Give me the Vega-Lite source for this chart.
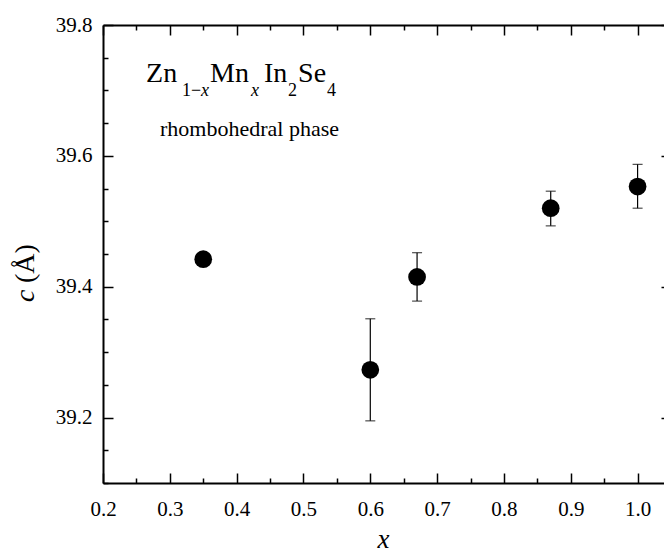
{
  "$schema": "https://vega.github.io/schema/vega-lite/v6.json",
  "width": 568,
  "height": 458,
  "autosize": {"type": "none"},
  "padding": {"left": 103, "top": 25, "right": 0, "bottom": 74},
  "background": "white",
  "config": {
    "font": "Liberation Serif, Times New Roman, serif",
    "view": {"stroke": null},
    "axis": {"labelFont": "Liberation Serif, Times New Roman, serif", "titleFont": "Liberation Serif, Times New Roman, serif"},
    "text": {"font": "Liberation Serif"}
  },
  "datasets": {
    "points": [
      {"x": 0.35, "c": 39.442, "lo": null, "hi": null},
      {"x": 0.6, "c": 39.273, "lo": 39.195, "hi": 39.351},
      {"x": 0.67, "c": 39.415, "lo": 39.378, "hi": 39.452},
      {"x": 0.87, "c": 39.52, "lo": 39.493, "hi": 39.546},
      {"x": 1.0, "c": 39.553, "lo": 39.52, "hi": 39.587}
    ],
    "main": [
      {"t": "Zn", "tx": 0.2644, "ty": 39.7125},
      {"t": "Mn", "tx": 0.3602, "ty": 39.7125},
      {"t": "In", "tx": 0.441, "ty": 39.7125},
      {"t": "Se", "tx": 0.4919, "ty": 39.7125}
    ],
    "sub": [
      {"t": "1−", "tx": 0.3183, "ty": 39.6911},
      {"t": "2", "tx": 0.4769, "ty": 39.6911},
      {"t": "4", "tx": 0.5353, "ty": 39.6911}
    ],
    "subital": [
      {"t": "x", "tx": 0.3467, "ty": 39.6911},
      {"t": "x", "tx": 0.4216, "ty": 39.6911}
    ],
    "note": [
      {"t": "rhombohedral phase", "tx": 0.2853, "ty": 39.630}
    ],
    "ytitleital": [
      {"t": "c", "tx": 0.0963, "ty": 39.3766}
    ],
    "ytitle": [
      {"t": "(Å)", "tx": 0.0963, "ty": 39.4057}
    ],
    "xtitle": [
      {"t": "x", "tx": 0.6199, "ty": 39.0}
    ]
  },
  "resolve": {"axis": {"x": "independent", "y": "independent"}},
  "layer": [
    {
      "data": {"name": "points"},
      "transform": [{"filter": "isValid(datum.lo)"}],
      "mark": {"type": "rule", "color": "black", "strokeWidth": 1.2},
      "encoding": {
        "x": {"field": "x", "type": "quantitative", "scale": {"domain": [0.2, 1.05], "nice": false, "zero": false}, "axis": null},
        "y": {"field": "lo", "type": "quantitative", "scale": {"domain": [39.1, 39.8], "nice": false, "zero": false}, "axis": null},
        "y2": {"field": "hi"}
      }
    },
    {
      "data": {"name": "points"},
      "transform": [{"filter": "isValid(datum.lo)"}],
      "mark": {"type": "tick", "orient": "horizontal", "color": "black", "size": 10, "thickness": 1.2},
      "encoding": {
        "x": {"field": "x", "type": "quantitative", "scale": {"domain": [0.2, 1.05], "nice": false, "zero": false}, "axis": null},
        "y": {"field": "lo", "type": "quantitative", "scale": {"domain": [39.1, 39.8], "nice": false, "zero": false}, "axis": null}
      }
    },
    {
      "data": {"name": "points"},
      "transform": [{"filter": "isValid(datum.hi)"}],
      "mark": {"type": "tick", "orient": "horizontal", "color": "black", "size": 10, "thickness": 1.2},
      "encoding": {
        "x": {"field": "x", "type": "quantitative", "scale": {"domain": [0.2, 1.05], "nice": false, "zero": false}, "axis": null},
        "y": {"field": "hi", "type": "quantitative", "scale": {"domain": [39.1, 39.8], "nice": false, "zero": false}, "axis": null}
      }
    },
    {
      "data": {"name": "points"},
      "mark": {"type": "circle", "color": "black", "opacity": 1, "size": 314},
      "encoding": {
        "x": {
          "field": "x", "type": "quantitative",
          "scale": {"domain": [0.2, 1.05], "nice": false, "zero": false},
          "axis": {
            "orient": "bottom",
            "values": [0.2, 0.25, 0.3, 0.35, 0.4, 0.45, 0.5, 0.55, 0.6, 0.65, 0.7, 0.75, 0.8, 0.85, 0.9, 0.95, 1.0, 1.05],
            "labelExpr": "abs(datum.value*10 - round(datum.value*10)) < 0.001 && datum.value < 1.01 ? format(datum.value, '.1f') : ''",
            "tickSize": {"condition": {"test": "abs(datum.value*10 - round(datum.value*10)) < 0.001", "value": -10}, "value": -5},
            "tickColor": "black", "tickWidth": 1.5,
            "domainColor": "black", "domainWidth": 2,
            "grid": false,
            "labelFontSize": 21, "labelColor": "black",
            "labelPadding": 25, "labelFlush": false, "labelOverlap": false,
            "title": null
          }
        },
        "y": {
          "field": "c", "type": "quantitative",
          "scale": {"domain": [39.1, 39.8], "nice": false, "zero": false},
          "axis": {
            "orient": "left",
            "values": [39.1, 39.15, 39.2, 39.25, 39.3, 39.35, 39.4, 39.45, 39.5, 39.55, 39.6, 39.65, 39.7, 39.75, 39.8],
            "labelExpr": "abs(datum.value*5 - round(datum.value*5)) < 0.001 ? format(datum.value, '.1f') : ''",
            "tickSize": {"condition": {"test": "abs(datum.value*5 - round(datum.value*5)) < 0.001", "value": -10}, "value": -5},
            "tickColor": "black", "tickWidth": 1.5,
            "domainColor": "black", "domainWidth": 2,
            "grid": false,
            "labelFontSize": 21, "labelColor": "black",
            "labelPadding": 21, "labelFlush": false, "labelOverlap": false,
            "title": null
          }
        }
      }
    },
    {
      "data": {"name": "points"},
      "mark": {"type": "circle", "opacity": 0},
      "encoding": {
        "x": {
          "field": "x", "type": "quantitative",
          "scale": {"domain": [0.2, 1.05], "nice": false, "zero": false},
          "axis": {
            "orient": "top",
            "values": [0.2, 0.25, 0.3, 0.35, 0.4, 0.45, 0.5, 0.55, 0.6, 0.65, 0.7, 0.75, 0.8, 0.85, 0.9, 0.95, 1.0, 1.05],
            "labels": false,
            "tickSize": {"condition": {"test": "abs(datum.value*10 - round(datum.value*10)) < 0.001", "value": -10}, "value": -5},
            "tickColor": "black", "tickWidth": 1.5,
            "domainColor": "black", "domainWidth": 2,
            "grid": false, "title": null
          }
        },
        "y": {
          "field": "c", "type": "quantitative",
          "scale": {"domain": [39.1, 39.8], "nice": false, "zero": false},
          "axis": {
            "orient": "right",
            "values": [39.1, 39.15, 39.2, 39.25, 39.3, 39.35, 39.4, 39.45, 39.5, 39.55, 39.6, 39.65, 39.7, 39.75, 39.8],
            "labels": false,
            "tickSize": {"condition": {"test": "abs(datum.value*5 - round(datum.value*5)) < 0.001", "value": -10}, "value": -5},
            "tickColor": "black", "tickWidth": 1.5,
            "domainColor": "black", "domainWidth": 2,
            "grid": false, "title": null
          }
        }
      }
    },
    {
      "data": {"name": "main"},
      "mark": {"type": "text", "font": "Liberation Serif", "fontSize": 28, "align": "left", "baseline": "alphabetic", "color": "black"},
      "encoding": {
        "x": {"field": "tx", "type": "quantitative", "scale": {"domain": [0.2, 1.05], "nice": false, "zero": false}, "axis": null},
        "y": {"field": "ty", "type": "quantitative", "scale": {"domain": [39.1, 39.8], "nice": false, "zero": false}, "axis": null},
        "text": {"field": "t"}
      }
    },
    {
      "data": {"name": "sub"},
      "mark": {"type": "text", "font": "Liberation Serif", "fontSize": 18, "align": "left", "baseline": "alphabetic", "color": "black"},
      "encoding": {
        "x": {"field": "tx", "type": "quantitative", "scale": {"domain": [0.2, 1.05], "nice": false, "zero": false}, "axis": null},
        "y": {"field": "ty", "type": "quantitative", "scale": {"domain": [39.1, 39.8], "nice": false, "zero": false}, "axis": null},
        "text": {"field": "t"}
      }
    },
    {
      "data": {"name": "subital"},
      "mark": {"type": "text", "font": "Liberation Serif", "fontSize": 18, "fontStyle": "italic", "align": "left", "baseline": "alphabetic", "color": "black"},
      "encoding": {
        "x": {"field": "tx", "type": "quantitative", "scale": {"domain": [0.2, 1.05], "nice": false, "zero": false}, "axis": null},
        "y": {"field": "ty", "type": "quantitative", "scale": {"domain": [39.1, 39.8], "nice": false, "zero": false}, "axis": null},
        "text": {"field": "t"}
      }
    },
    {
      "data": {"name": "note"},
      "mark": {"type": "text", "font": "Liberation Serif", "fontSize": 22, "align": "left", "baseline": "alphabetic", "color": "black"},
      "encoding": {
        "x": {"field": "tx", "type": "quantitative", "scale": {"domain": [0.2, 1.05], "nice": false, "zero": false}, "axis": null},
        "y": {"field": "ty", "type": "quantitative", "scale": {"domain": [39.1, 39.8], "nice": false, "zero": false}, "axis": null},
        "text": {"field": "t"}
      }
    },
    {
      "data": {"name": "ytitleital"},
      "mark": {"type": "text", "font": "Liberation Serif", "fontSize": 28, "fontStyle": "italic", "angle": 270, "align": "left", "baseline": "alphabetic", "color": "black"},
      "encoding": {
        "x": {"field": "tx", "type": "quantitative", "scale": {"domain": [0.2, 1.05], "nice": false, "zero": false}, "axis": null},
        "y": {"field": "ty", "type": "quantitative", "scale": {"domain": [39.1, 39.8], "nice": false, "zero": false}, "axis": null},
        "text": {"field": "t"}
      }
    },
    {
      "data": {"name": "ytitle"},
      "mark": {"type": "text", "font": "Liberation Serif", "fontSize": 28, "angle": 270, "align": "left", "baseline": "alphabetic", "color": "black"},
      "encoding": {
        "x": {"field": "tx", "type": "quantitative", "scale": {"domain": [0.2, 1.05], "nice": false, "zero": false}, "axis": null},
        "y": {"field": "ty", "type": "quantitative", "scale": {"domain": [39.1, 39.8], "nice": false, "zero": false}, "axis": null},
        "text": {"field": "t"}
      }
    },
    {
      "data": {"name": "xtitle"},
      "mark": {"type": "text", "font": "Liberation Serif", "fontSize": 27, "fontStyle": "italic", "align": "center", "baseline": "alphabetic", "color": "black"},
      "encoding": {
        "x": {"field": "tx", "type": "quantitative", "scale": {"domain": [0.2, 1.05], "nice": false, "zero": false}, "axis": null},
        "y": {"field": "ty", "type": "quantitative", "scale": {"domain": [39.1, 39.8], "nice": false, "zero": false}, "axis": null},
        "text": {"field": "t"}
      }
    }
  ]
}
